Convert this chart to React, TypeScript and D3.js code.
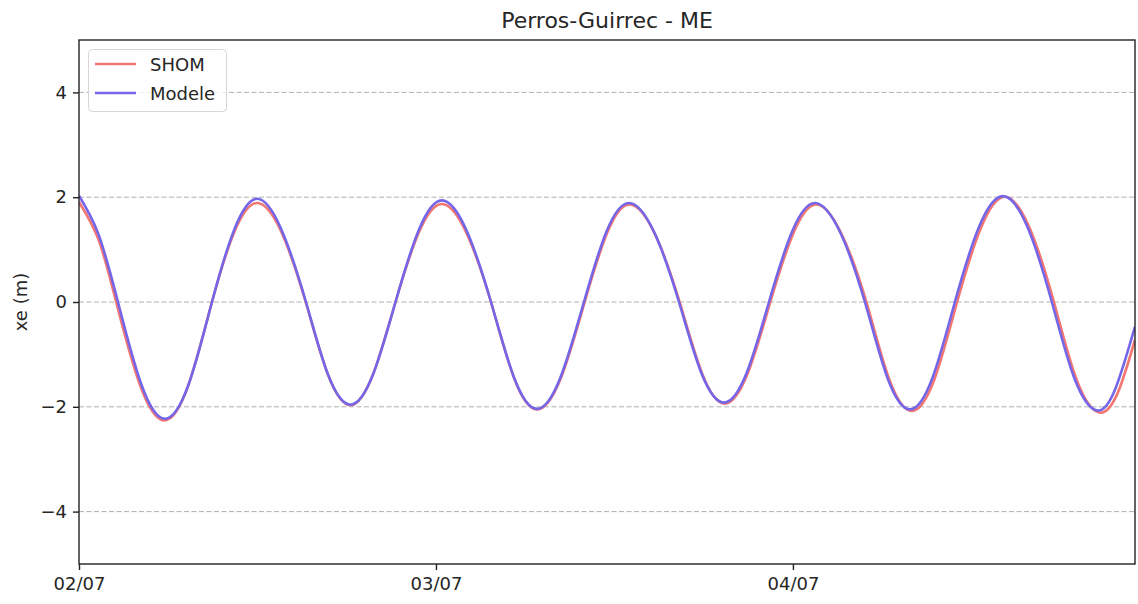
import React, { useEffect, useRef } from 'react';
import * as d3 from 'd3';

// Hours since 02/07 00:00 and water level (m)
const shomHours = [0, 1.3, 2.5, 4.12, 5.75, 7.34, 8.94, 10.45, 11.97, 13.6, 15.24, 16.74, 18.25, 19.76,
  21.28, 22.84, 24.4, 26.05, 27.7, 29.25, 30.8, 32.4, 34.0, 35.5, 37.0, 38.7, 40.38, 41.9, 43.42,
  44.95, 46.48, 48.03, 49.57, 51.25, 52.94, 54.47, 56.0, 57.52, 59.04, 60.65, 62.25, 63.9, 65.55,
  67.08, 68.6, 69.86, 71];
const shomLevel = [1.91, 1.2, 0, -1.6, -2.26, -1.6, 0, 1.34, 1.89, 1.34, 0, -1.39, -1.97, -1.39,
  0, 1.32, 1.87, 1.32, 0, -1.45, -2.05, -1.45, 0, 1.31, 1.86, 1.31, 0, -1.37, -1.94,
  -1.37, 0, 1.31, 1.86, 1.31, 0, -1.47, -2.08, -1.47, 0, 1.42, 2.01, 1.42, 0,
  -1.49, -2.11, -1.72, -0.72];

const modeleHours = [0, 1.3, 2.62, 4.2, 5.78, 7.36, 8.94, 10.45, 11.97, 13.6, 15.26, 16.75, 18.25, 19.76,
  21.28, 22.84, 24.4, 26.05, 27.7, 29.25, 30.79, 32.37, 33.95, 35.46, 36.97, 38.66, 40.34, 41.85, 43.36,
  44.88, 46.39, 47.94, 49.48, 51.16, 52.84, 54.36, 55.87, 57.38, 58.89, 60.51, 62.12, 63.77, 65.41,
  66.93, 68.44, 69.7, 71];
const modeleLevel = [2.03, 1.3, 0, -1.58, -2.23, -1.58, 0, 1.39, 1.97, 1.39, 0, -1.39, -1.96, -1.39,
  0, 1.37, 1.94, 1.37, 0, -1.44, -2.04, -1.44, 0, 1.34, 1.89, 1.34, 0, -1.36, -1.92,
  -1.36, 0, 1.34, 1.89, 1.34, 0, -1.45, -2.05, -1.45, 0, 1.43, 2.02, 1.43, 0,
  -1.46, -2.07, -1.64, -0.47];

const yTicks = [-4, -2, 0, 2, 4];
const xTickHours = [0, 24, 48];
const xTickLabels = ['02/07', '03/07', '04/07'];

const seriesNames = ['SHOM', 'Modele'];
const seriesColors = ['#f27672', '#7466e8'];

const W = 1138;
const H = 604;
const FONT = 'DejaVu Sans, sans-serif';

const App = () => {
  const svgRef = useRef(null);

  useEffect(() => {
    const svg = d3.select(svgRef.current);
    svg.selectAll('*').remove();

    const margin = { top: 40, right: 3, bottom: 40, left: 79 };
    const x = d3.scaleLinear().domain([0, 71]).range([margin.left, W - margin.right]);
    const y = d3.scaleLinear().domain([-5, 5]).range([H - margin.bottom, margin.top]);

    svg.append('defs').append('clipPath').attr('id', 'plot-clip')
      .append('rect')
      .attr('x', x(0)).attr('y', y(5))
      .attr('width', x(71) - x(0)).attr('height', y(-5) - y(5));

    // Grid
    svg.append('g')
      .selectAll('line')
      .data(yTicks)
      .enter().append('line')
      .attr('x1', x(0)).attr('x2', x(71))
      .attr('y1', d => y(d)).attr('y2', d => y(d))
      .attr('stroke', '#b0b0b0')
      .attr('stroke-width', 1)
      .attr('stroke-dasharray', '5,2.5');

    // Series
    const series = [
      { hours: shomHours, level: shomLevel },
      { hours: modeleHours, level: modeleLevel }
    ];
    const line = d3.line()
      .x(d => x(d[0]))
      .y(d => y(d[1]))
      .curve(d3.curveNatural);

    const lines = svg.append('g').attr('clip-path', 'url(#plot-clip)');
    series.forEach((s, i) => {
      lines.append('path')
        .datum(s.hours.map((h, j) => [h, s.level[j]]))
        .attr('d', line)
        .attr('fill', 'none')
        .attr('stroke', seriesColors[i])
        .attr('stroke-width', 2.6)
        .attr('stroke-linejoin', 'round');
    });

    // Axes
    const yAxis = svg.append('g')
      .attr('transform', `translate(${x(0)},0)`)
      .call(d3.axisLeft(y).tickValues(yTicks).tickSize(6).tickPadding(6).tickFormat(d3.format('d')));
    const xAxis = svg.append('g')
      .attr('transform', `translate(0,${y(-5)})`)
      .call(d3.axisBottom(x).tickValues(xTickHours).tickSize(6).tickPadding(7)
        .tickFormat((d, i) => xTickLabels[i]));

    [yAxis, xAxis].forEach(a => {
      a.select('.domain').remove();
      a.selectAll('line').attr('stroke', '#222').attr('stroke-width', 1.4);
      a.selectAll('text')
        .attr('fill', '#262626')
        .style('font-family', FONT)
        .style('font-size', '18px');
    });

    // Frame
    svg.append('rect')
      .attr('x', x(0)).attr('y', y(5))
      .attr('width', x(71) - x(0)).attr('height', y(-5) - y(5))
      .attr('fill', 'none')
      .attr('stroke', '#222')
      .attr('stroke-width', 1.4);

    // Title and y label
    svg.append('text')
      .attr('x', (x(0) + x(71)) / 2)
      .attr('y', 28)
      .attr('text-anchor', 'middle')
      .style('font-family', FONT)
      .style('font-size', '22px')
      .attr('fill', '#262626')
      .text('Perros-Guirrec - ME');

    svg.append('text')
      .attr('transform', `translate(27,${y(0)}) rotate(-90)`)
      .attr('text-anchor', 'middle')
      .style('font-family', FONT)
      .style('font-size', '18px')
      .attr('fill', '#262626')
      .text('xe (m)');

    // Legend
    const legend = svg.append('g');
    legend.append('rect')
      .attr('x', 88.5).attr('y', 49.5)
      .attr('width', 138).attr('height', 62)
      .attr('rx', 4)
      .attr('fill', 'white')
      .attr('fill-opacity', 0.8)
      .attr('stroke', '#d6d6d6')
      .attr('stroke-width', 1);
    seriesNames.forEach((name, i) => {
      const ly = 64 + i * 29;
      legend.append('line')
        .attr('x1', 95).attr('x2', 136)
        .attr('y1', ly).attr('y2', ly)
        .attr('stroke', seriesColors[i])
        .attr('stroke-width', 2.6);
      legend.append('text')
        .attr('x', 150).attr('y', ly + 7)
        .style('font-family', FONT)
        .style('font-size', '18px')
        .attr('fill', '#262626')
        .text(name);
    });
  }, []);

  return (
    <div style={{ position: 'absolute', left: 0, top: 0 }}>
      <svg ref={svgRef} width={W} height={H} style={{ display: 'block', background: 'white' }}></svg>
    </div>
  );
};

export default App;
